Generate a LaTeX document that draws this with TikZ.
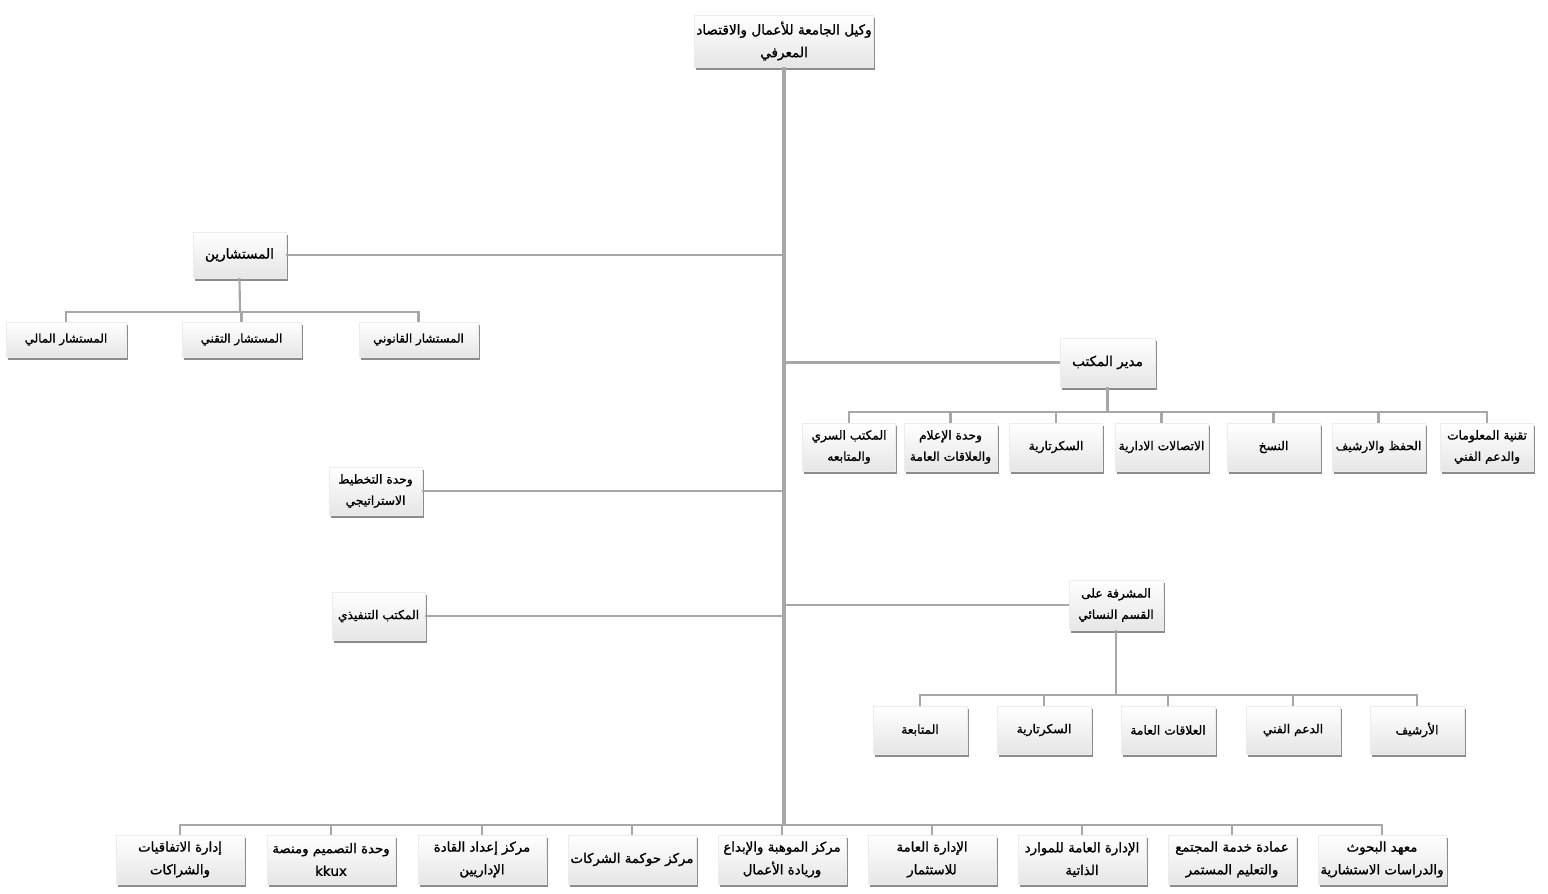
\documentclass[tikz,border=0pt]{standalone}
\usepackage{fontspec}
\usetikzlibrary{shadows}
\TeXXeTstate=1
\newfontfamily\arabicfont[Script=Arabic,FakeBold=1.2]{DejaVu Sans}
\newcommand\rtl[1]{\beginR #1\endR}
\tikzset{
  box/.style={rectangle, draw=gray!15, line width=0.3pt, top color=white, bottom color=gray!20,
    drop shadow={shadow xshift=1.2pt, shadow yshift=-2.2pt, fill=black, opacity=0.45},
    align=center, inner sep=1pt, text=black,
    font=\arabicfont\fontsize{9.2}{16}\selectfont},
  cbox/.style={box, font=\arabicfont\fontsize{8.9}{16}\selectfont},
  midbox/.style={box, font=\arabicfont\fontsize{10.2}{17}\selectfont},
  bigbox/.style={box, font=\arabicfont\fontsize{10}{17}\selectfont},
  trunk/.style={draw=gray!85!black!60, line width=2.3pt},
  conn/.style={draw=gray!85!black!60, line width=1.6pt},
}
\begin{document}
\begin{tikzpicture}[x=0.75pt,y=-0.75pt]
\useasboundingbox (0,0) rectangle (1548,893);
\fill[white] (0,0) rectangle (1548,893);
% top
\node[midbox, minimum width=134.25pt, minimum height=39pt] (top) at (784,41) {\rtl{وكيل الجامعة للأعمال والاقتصاد}\\\rtl{المعرفي}};
\coordinate (tb) at (784,825);
% consultants
\node[midbox, minimum width=69.75pt, minimum height=34.5pt] (cons) at (239.5,255) {\rtl{المستشارين}};
\node[cbox, minimum width=90pt, minimum height=26.25pt] (c1) at (66,339.5) {\rtl{المستشار المالي}};
\node[cbox, minimum width=89.25pt, minimum height=26.25pt] (c2) at (241.5,339.5) {\rtl{المستشار التقني}};
\node[cbox, minimum width=89.25pt, minimum height=26.25pt] (c3) at (418.5,339.5) {\rtl{المستشار القانوني}};
\coordinate (cbus) at (240,312);
% office manager
\node[midbox, minimum width=71.25pt, minimum height=36.75pt] (office) at (1107.5,362.5) {\rtl{مدير المكتب}};
\foreach \n/\x/\t in {o1/849/{\rtl{المكتب السري}\\\rtl{والمتابعه}},
                      o2/950.5/{\rtl{وحدة الإعلام}\\\rtl{والعلاقات العامة}},
                      o3/1056/{\rtl{السكرتارية}},
                      o4/1161.5/{\rtl{الاتصالات الادارية}},
                      o5/1273.5/{\rtl{النسخ}},
                      o6/1378.5/{\rtl{الحفظ والارشيف}},
                      o7/1487/{\rtl{تقنية المعلومات}\\\rtl{والدعم الفني}}}
  {\node[box, minimum width=69.75pt, minimum height=36pt] (\n) at (\x,447) {\t};}
\coordinate (obus) at (1107.5,412);
% planning / executive
\node[box, minimum width=69.75pt, minimum height=36pt] (plan) at (375.5,491) {\rtl{وحدة التخطيط}\\\rtl{الاستراتيجي}};
\node[box, minimum width=69.75pt, minimum height=36pt] (exec) at (378.5,616) {\rtl{المكتب التنفيذي}};
% women section
\node[box, minimum width=70.5pt, minimum height=37.5pt] (women) at (1116,605) {\rtl{المشرفة على}\\\rtl{القسم النسائي}};
\foreach \n/\x/\t in {w1/920/{\rtl{المتابعة}},
                      w2/1044/{\rtl{السكرتارية}},
                      w3/1168/{\rtl{العلاقات العامة}},
                      w4/1293/{\rtl{الدعم الفني}},
                      w5/1417/{\rtl{الأرشيف}}}
  {\node[box, minimum width=70.5pt, minimum height=36pt] (\n) at (\x,730) {\t};}
\coordinate (wbus) at (1116,695);
% bottom row
\foreach \n/\x/\t in {b1/180/{\rtl{إدارة الاتفاقيات}\\\rtl{والشراكات}},
                      b2/331/{\rtl{وحدة التصميم ومنصة}\\kkux},
                      b3/482/{\rtl{مركز إعداد القادة}\\\rtl{الإداريين}},
                      b4/632/{\rtl{مركز حوكمة الشركات}},
                      b5/782/{\rtl{مركز الموهبة والإبداع}\\\rtl{وريادة الأعمال}},
                      b6/932/{\rtl{الإدارة العامة}\\\rtl{للاستثمار}},
                      b7/1082/{\rtl{الإدارة العامة للموارد}\\\rtl{الذاتية}},
                      b8/1232/{\rtl{عمادة خدمة المجتمع}\\\rtl{والتعليم المستمر}},
                      b9/1382/{\rtl{معهد البحوث}\\\rtl{والدراسات الاستشارية}}}
  {\node[bigbox, minimum width=96pt, minimum height=36.75pt] (\n) at (\x,859.5) {\t};}
% connectors
\draw[trunk] (top.south) -- (tb);
\draw[conn] (cons.east) -- (cons.east -| tb);
\draw[conn] (office.west) -- (office.west -| tb);
\draw[conn] (plan.east) -- (plan.east -| tb);
\draw[conn] (exec.east) -- (exec.east -| tb);
\draw[conn] (women.west) -- (women.west -| tb);
% consultants bus
\draw[conn] (cons.south) -- (cbus);
\draw[conn] (c1.north) -- (c1.north |- cbus) -- (c3.north |- cbus) -- (c3.north);
\draw[conn] (c2.north) -- (c2.north |- cbus);
% office bus
\draw[conn] (office.south) -- (obus);
\draw[conn] (o1.north) -- (o1.north |- obus) -- (o7.north |- obus) -- (o7.north);
\foreach \n in {o2,o3,o4,o5,o6} {\draw[conn] (\n.north) -- (\n.north |- obus);}
% women bus
\draw[conn] (women.south) -- (wbus);
\draw[conn] (w1.north) -- (w1.north |- wbus) -- (w5.north |- wbus) -- (w5.north);
\foreach \n in {w2,w3,w4} {\draw[conn] (\n.north) -- (\n.north |- wbus);}
% bottom bus
\draw[conn] (b1.north) -- (b1.north |- tb) -- (b9.north |- tb) -- (b9.north);
\foreach \n in {b2,b3,b4,b5,b6,b7,b8} {\draw[conn] (\n.north) -- (\n.north |- tb);}
\end{tikzpicture}
\end{document}
